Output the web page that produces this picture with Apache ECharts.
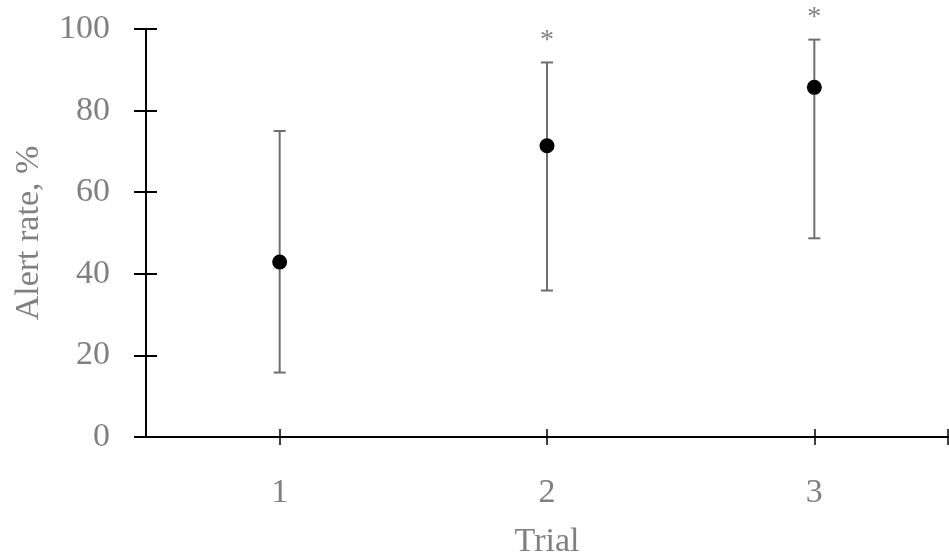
<!DOCTYPE html>
<html><head><meta charset="utf-8">
<script src="https://cdn.jsdelivr.net/npm/echarts@6/dist/echarts.min.js"></script>
<style>html,body{margin:0;padding:0;background:#fff}#c{width:949px;height:554px}</style>
</head><body><div id="c"></div>
<script>
var trials = [1, 2, 3];
var rates = [42.9, 71.4, 85.7];
var lower = [15.8, 35.9, 48.7];
var upper = [75.0, 91.8, 97.4];
var marks = ['', '*', '*'];
var yTicks = [0, 20, 40, 60, 80, 100];

var FONT = 'Liberation Serif';
var GREY = '#808080';
var FS = 34;
var chart = echarts.init(document.getElementById('c'));

var barData = trials.map(function (t, i) { return [t, lower[i], upper[i], marks[i]]; });
var pointData = trials.map(function (t, i) { return [t, rates[i]]; });

var xBase = {
  type: 'value', min: 0.5, max: 3.5, splitLine: { show: false }
};
var yBase = {
  type: 'value', min: yTicks[0], max: yTicks[yTicks.length - 1], interval: 20,
  splitLine: { show: false }
};

chart.setOption({
  animation: false,
  grid: { left: 146, right: 1, top: 29, bottom: 117, containLabel: false, outerBoundsMode: 'none' },
  xAxis: [
    Object.assign({}, xBase, {
      name: 'Trial', nameLocation: 'middle', nameGap: 88,
      nameTextStyle: { fontFamily: FONT, fontSize: FS, color: GREY },
      axisLine: { lineStyle: { color: '#000', width: 2 } },
      axisTick: { show: true, length: 8, customValues: [1, 2, 3, 3.5], lineStyle: { color: '#000', width: 1.5 } },
      axisLabel: { customValues: trials, margin: 39, fontFamily: FONT, fontSize: FS, color: GREY }
    }),
    Object.assign({}, xBase, {
      position: 'bottom',
      axisLine: { show: false },
      axisTick: { show: true, inside: true, length: 8, customValues: [1, 2, 3, 3.5], lineStyle: { color: '#000', width: 1.5 } },
      axisLabel: { show: false }
    })
  ],
  yAxis: [
    Object.assign({}, yBase, {
      name: 'Alert rate, %', nameLocation: 'middle', nameGap: 100,
      nameTextStyle: { fontFamily: FONT, fontSize: FS, color: GREY },
      axisLine: { show: true, lineStyle: { color: '#000', width: 2 } },
      axisTick: { show: true, length: 12, lineStyle: { color: '#000', width: 2 } },
      axisLabel: { margin: 36, fontFamily: FONT, fontSize: FS, color: GREY }
    }),
    Object.assign({}, yBase, {
      position: 'left',
      axisLine: { show: false },
      axisTick: { show: true, inside: true, length: 11, lineStyle: { color: '#000', width: 2 } },
      axisLabel: { show: false }
    })
  ],
  series: [
    {
      type: 'custom',
      xAxisIndex: 0, yAxisIndex: 0,
      data: barData,
      renderItem: function (params, api) {
        var x = api.value(0);
        var lo = api.coord([x, api.value(1)]);
        var hi = api.coord([x, api.value(2)]);
        var w = 6;
        var st = { stroke: '#6e6e6e', lineWidth: 2 };
        var children = [
          { type: 'line', shape: { x1: lo[0], y1: lo[1], x2: hi[0], y2: hi[1] }, style: st },
          { type: 'line', shape: { x1: lo[0] - w, y1: lo[1], x2: lo[0] + w, y2: lo[1] }, style: st },
          { type: 'line', shape: { x1: hi[0] - w, y1: hi[1], x2: hi[0] + w, y2: hi[1] }, style: st }
        ];
        var m = barData[params.dataIndex][3];
        if (m) {
          children.push({
            type: 'text',
            style: { text: m, x: hi[0], y: hi[1] - 8, align: 'center', verticalAlign: 'bottom',
              fill: GREY, font: '28px "' + FONT + '"' }
          });
        }
        return { type: 'group', children: children };
      },
      z: 2
    },
    {
      type: 'scatter',
      xAxisIndex: 0, yAxisIndex: 0,
      data: pointData,
      symbol: 'circle', symbolSize: 15,
      itemStyle: { color: '#000', opacity: 1 },
      z: 3
    }
  ]
});
</script></body></html>
